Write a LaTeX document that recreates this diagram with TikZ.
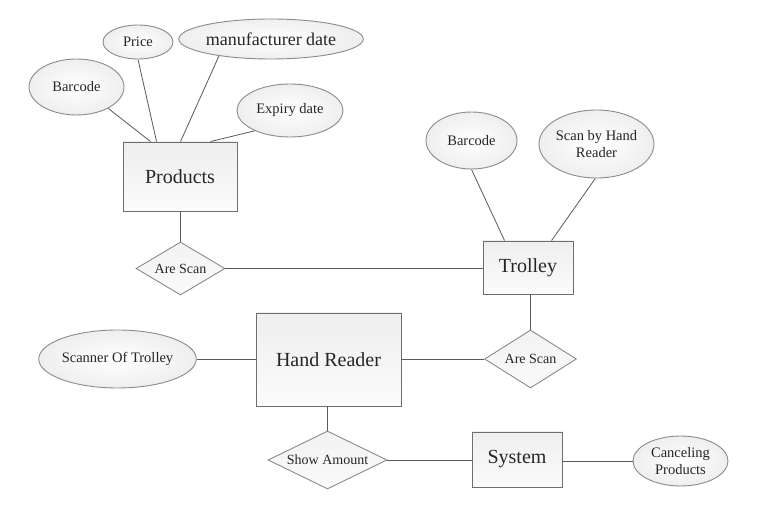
\documentclass[tikz,border=0pt]{standalone}
\usepackage{fontspec}
\setmainfont{Liberation Serif}
\usetikzlibrary{shapes.geometric,calc}
\definecolor{edgecol}{HTML}{6E6E6E}
\definecolor{linecol}{HTML}{5A5A5A}
\tikzset{
  ent/.style={draw=edgecol, line width=0.9pt, top color=gray!13, bottom color=gray!3, inner sep=0pt, font=\fontsize{20}{22}\selectfont, text=black!85},
  attr/.style={ellipse, draw=edgecol!80, line width=0.9pt, inner color=white, outer color=gray!13, inner sep=0pt, font=\fontsize{14.5}{17}\selectfont, align=center, text=black!85},
  rel/.style={diamond, draw=edgecol!80, line width=0.9pt, top color=gray!10, bottom color=gray!4, inner sep=0pt, aspect=1.7, font=\fontsize{14}{16}\selectfont, text=black!85},
  conn/.style={draw=linecol, line width=0.8pt}
}
\begin{document}
\begin{tikzpicture}[x=1pt,y=-1pt]
\useasboundingbox[fill=white] (0,0) rectangle (782,526);
% entities
\node[ent, minimum width=114pt, minimum height=69pt] (prod) at (180,176.5) {Products};
\node[ent, minimum width=90pt, minimum height=53pt] (trol) at (528,267.5) {Trolley};
\node[ent, minimum width=145pt, minimum height=93pt] (hand) at (328.5,359.5) {Hand Reader};
\node[ent, minimum width=90pt, minimum height=55pt] (sys) at (517,459.5) {System};
% attributes
\node[attr, minimum width=70pt, minimum height=34pt] (price) at (138,42) {Price};
\node[attr, minimum width=164pt, minimum height=40pt, font=\fontsize{18}{20}\selectfont] (manu) at (271,39) {manufacturer date};
\node[attr, minimum width=95pt, minimum height=56pt] (bar1) at (76.5,87) {Barcode};
\node[attr, minimum width=106pt, minimum height=53pt] (exp) at (290,110.5) {Expiry date};
\node[attr, minimum width=91pt, minimum height=57pt] (bar2) at (471.5,140.5) {Barcode};
\node[attr, minimum width=107pt, minimum height=68pt] (sbhr) at (596.5,144) {Scan by Hand\\Reader};
\node[attr, minimum width=131pt, minimum height=58pt] (sot) at (117.5,359) {Scanner Of Trolley};
\node[attr, minimum width=95pt, minimum height=50pt] (canc) at (680.5,461) {Canceling\\Products};
% relationships
\node[rel, minimum width=89pt, minimum height=53pt] (as1) at (180.5,268.5) {Are Scan};
\node[rel, minimum width=92pt, minimum height=58pt] (as2) at (530.5,359) {Are Scan};
\node[rel, minimum width=119pt, minimum height=58pt] (show) at (327.5,460) {Show Amount};
% connectors
\coordinate (p1) at ($(prod.north west)+(28,0)$);
\coordinate (p2) at ($(prod.north west)+(34,0)$);
\coordinate (p3) at ($(prod.north west)+(58,0)$);
\coordinate (p4) at ($(prod.north west)+(88,0)$);
\draw[conn] (bar1.-34) -- (p1);
\draw[conn] (price.south) -- (p2);
\draw[conn] (manu.-162) -- (p3);
\draw[conn] (exp.-150) -- (p4);
\coordinate (t1) at ($(trol.north west)+(22,0)$);
\coordinate (t2) at ($(trol.north west)+(69,0)$);
\draw[conn] (bar2.south) -- (t1);
\draw[conn] (sbhr.-92) -- (t2);
\draw[conn] (prod.south) -- (prod.south |- as1.north);
\draw[conn] (as1.east) -- (as1.east -| trol.west);
\draw[conn] (trol.south -| as2.north) -- (as2.north);
\draw[conn] (sot.east) -- (sot.east -| hand.west);
\draw[conn] (hand.east |- as2.west) -- (as2.west);
\draw[conn] (hand.south -| show.north) -- (show.north);
\draw[conn] (show.east) -- (show.east -| sys.west);
\draw[conn] (sys.east |- canc.west) -- (canc.west);
\end{tikzpicture}
\end{document}
